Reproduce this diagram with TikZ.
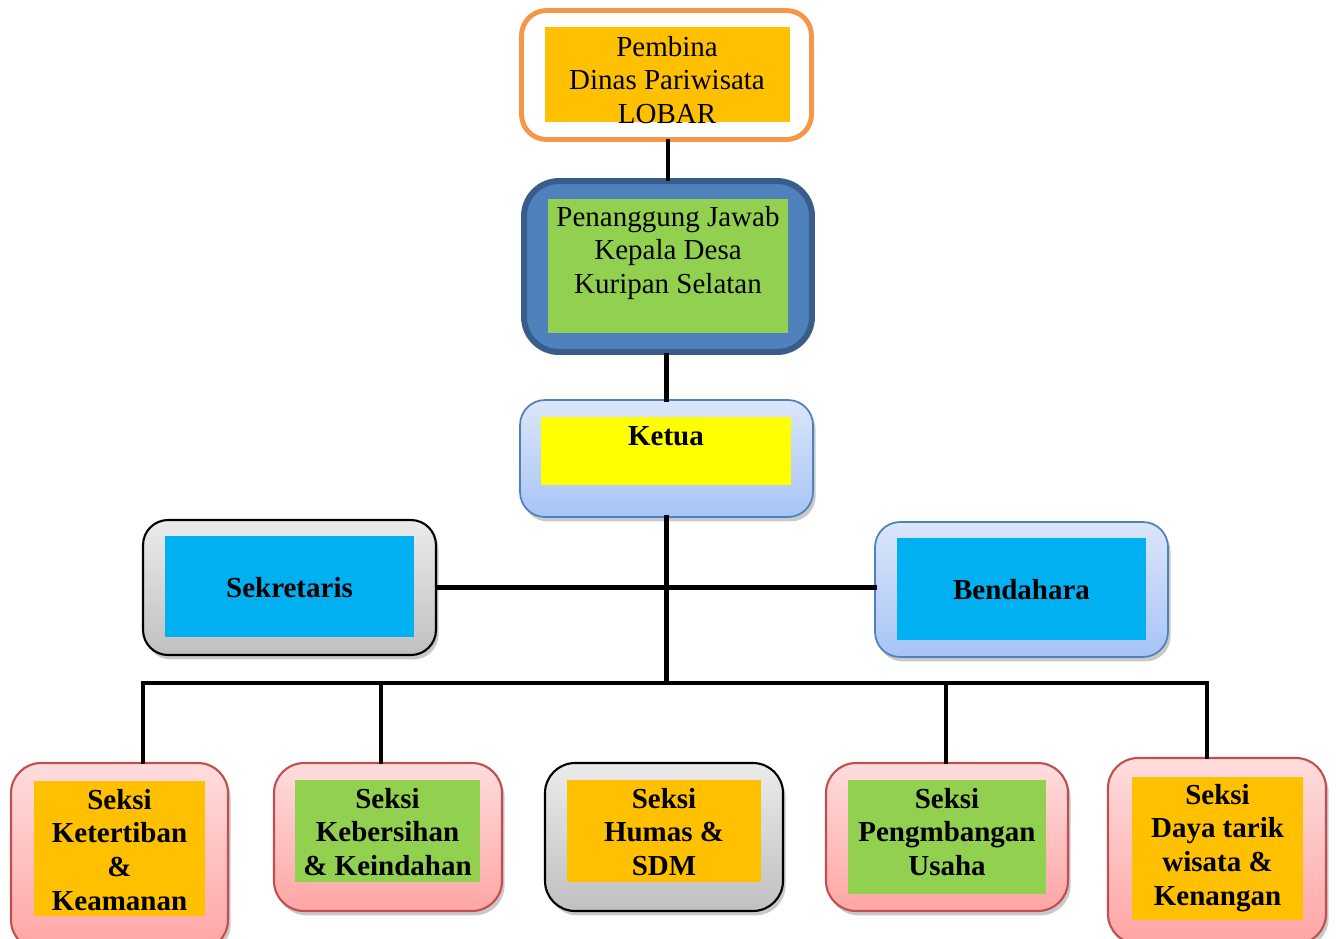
\documentclass[tikz,border=0pt]{standalone}
\usepackage{fontspec}
\setmainfont{Liberation Serif}
\usetikzlibrary{positioning, shadows}

\definecolor{pembinaline}{HTML}{F79646}
\definecolor{gold}{HTML}{FFC000}
\definecolor{pjblue}{HTML}{4F81BD}
\definecolor{pjdark}{HTML}{385D8A}
\definecolor{lime}{HTML}{92D050}
\definecolor{sky}{HTML}{00B0F0}
\definecolor{lemon}{HTML}{FFFF00}
\definecolor{redline}{HTML}{C0504D}
\definecolor{pinktop}{HTML}{FFDDDD}
\definecolor{pinkbot}{HTML}{FFA5A5}
\definecolor{bluetop}{HTML}{DCE6F9}
\definecolor{bluebot}{HTML}{A7C4F6}
\definecolor{greytop}{HTML}{EBEBEB}
\definecolor{greybot}{HTML}{C0C0C0}

\begin{document}
\begin{tikzpicture}[
        x=0.02cm, y=-0.02cm,
        link/.style={line width=2.8pt, line cap=rect},
        shade/.style={drop shadow={shadow xshift=1.5pt, shadow yshift=-2.5pt, opacity=0.3, fill=black!70}},
        outer/.style={rectangle, rounded corners=0.5cm, inner sep=0pt},
        bluebox/.style={outer, shade, draw=pjblue, line width=1pt, top color=bluetop, bottom color=bluebot},
        greybox/.style={outer, shade, draw=black, line width=1.2pt, top color=greytop, bottom color=greybot},
        pinkbox/.style={outer, shade, rounded corners=0.6cm, draw=redline, line width=1.2pt, top color=pinktop, bottom color=pinkbot},
        inner/.style={rectangle, inner sep=0pt},
        txt/.style={align=center, inner sep=0pt, font=\fontsize{16.5}{19.3}\selectfont},
        btxt/.style={txt, font=\fontsize{16.5}{19.3}\selectfont\bfseries},
    ]

    \useasboundingbox (0,0) rectangle (1336,938);
    \clip (0,0) rectangle (1336,938);

    % Draw the top boxes
    \node[outer, draw=pembinaline, line width=2.8pt, fill=white, minimum width=5.8cm, minimum height=2.58cm] (pembina) at (666.5,75) {};
    \node[inner, fill=gold, minimum width=4.9cm, minimum height=1.9cm] (pembina-in) at (667.5,74.5) {};
    \node[txt] (pembina-t) at (667,80) {Pembina\\Dinas Pariwisata\\LOBAR};

    \node[outer, rounded corners=0.7cm, draw=pjdark, line width=3.4pt, fill=pjblue, minimum width=5.76cm, minimum height=3.42cm] (pj) at (668,266.5) {};
    \node[inner, fill=lime, minimum width=4.8cm, minimum height=2.68cm] (pj-in) at (668,266) {};
    \node[txt] (pj-t) at (668,253) {Penanggung Jawab\\Kepala Desa\\Kuripan Selatan};

    \node[bluebox, minimum width=5.86cm, minimum height=2.34cm] (ketua) at (666.5,458.5) {};
    \node[inner, fill=lemon, minimum width=5cm, minimum height=1.36cm] (ketua-in) at (666,451) {};
    \node[btxt] (ketua-t) at (666,436) {Ketua};

    % Draw the secretary and treasurer
    \node[greybox, minimum width=5.86cm, minimum height=2.7cm] (sekretaris) at (289.5,587.5) {};
    \node[inner, fill=sky, minimum width=4.98cm, minimum height=2.02cm] (sekretaris-in) at (289.5,586.5) {};
    \node[btxt] (sekretaris-t) at (289.5,588) {Sekretaris};

    \node[bluebox, minimum width=5.86cm, minimum height=2.7cm] (bendahara) at (1021.5,589.5) {};
    \node[inner, fill=sky, minimum width=4.98cm, minimum height=2.04cm] (bendahara-in) at (1021.5,589) {};
    \node[btxt] (bendahara-t) at (1021.5,590) {Bendahara};

    % Draw the sections
    \node[pinkbox, minimum width=4.34cm, minimum height=3.74cm] (seksi-1) at (119.5,856.5) {};
    \node[inner, fill=gold, minimum width=3.42cm, minimum height=2.7cm] (seksi-1-in) at (119.5,848.5) {};
    \node[btxt] (seksi-1-t) at (119.5,850) {Seksi\\Ketertiban\\\&\\Keamanan};

    \node[pinkbox, minimum width=4.56cm, minimum height=2.96cm] (seksi-2) at (388,837) {};
    \node[inner, fill=lime, minimum width=3.7cm, minimum height=2.04cm] (seksi-2-in) at (387.5,831) {};
    \node[btxt] (seksi-2-t) at (387.5,832) {Seksi\\Kebersihan\\\& Keindahan};

    \node[greybox, rounded corners=0.6cm, minimum width=4.76cm, minimum height=2.96cm] (seksi-3) at (664,837) {};
    \node[inner, fill=gold, minimum width=3.88cm, minimum height=2.04cm] (seksi-3-in) at (664,831) {};
    \node[btxt] (seksi-3-t) at (664,832) {Seksi\\Humas \&\\SDM};

    \node[pinkbox, minimum width=4.84cm, minimum height=2.96cm] (seksi-4) at (947,837) {};
    \node[inner, fill=lime, minimum width=3.96cm, minimum height=2.28cm] (seksi-4-in) at (947,837) {};
    \node[btxt] (seksi-4-t) at (947,832) {Seksi\\Pengmbangan\\Usaha};

    \node[pinkbox, minimum width=4.36cm, minimum height=3.72cm] (seksi-5) at (1217,851) {};
    \node[inner, fill=gold, minimum width=3.42cm, minimum height=2.86cm] (seksi-5-in) at (1217.5,848.5) {};
    \node[btxt] (seksi-5-t) at (1217.5,848) {Seksi\\Daya tarik\\wisata \&\\Kenangan};

    % Connect the chain of command
    \draw[link] (pj.north |- pembina.south) -- (pj.north);
    \draw[link] (ketua.north |- pj.south) -- (ketua.north);
    \draw[link] (sekretaris.east) -- (sekretaris.east -| bendahara.west);

    \coordinate (bus-1) at (143,683);
    \coordinate (bus-2) at (381,683);
    \coordinate (bus-4) at (946,683);
    \coordinate (bus-5) at (1207,683);
    \draw[link] (ketua.south) -- (ketua.south |- bus-1);
    \draw[link] (bus-1) -- (bus-5);

    % Connect the bus with the sections
    \foreach \dest in {1,2,4,5}
        \draw[link] (bus-\dest) -- (bus-\dest |- seksi-\dest.north);
\end{tikzpicture}
\end{document}
